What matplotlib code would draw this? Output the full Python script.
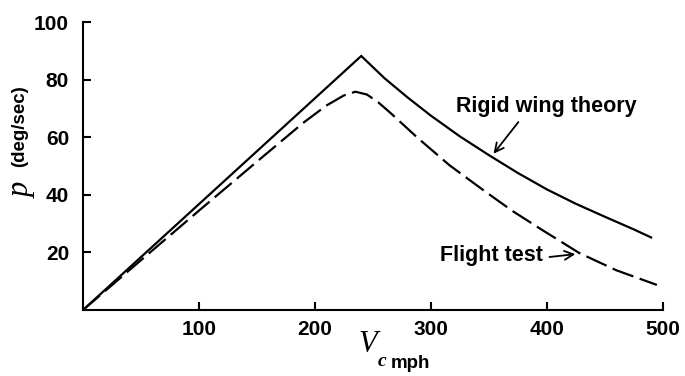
import matplotlib
matplotlib.use("Agg")
import matplotlib.pyplot as plt

# Data
rigid_v = [0, 240, 260, 280, 300, 325, 350, 375, 400, 425, 450, 475, 490]
rigid_p = [0, 88.2, 80.5, 73.8, 67.5, 60.3, 53.8, 47.6, 41.9, 36.9, 32.4, 28.0, 25.2]

flight_v = [0, 50, 100, 150, 190, 210, 225, 235, 245, 255, 265, 288, 316, 345, 370, 396, 428, 460, 495]
flight_p = [0, 17.3, 34.5, 51.5, 65.0, 71.0, 74.5, 75.8, 74.8, 72.0, 68.5, 60.0, 50.3, 41.7, 34.5, 27.8, 19.8, 13.8, 8.7]

x_ticks = [100, 200, 300, 400, 500]
y_ticks = [20, 40, 60, 80, 100]

W, H = 685, 376
fig = plt.figure(figsize=(W / 100, H / 100), dpi=100)
ax = fig.add_axes([83 / W, 1 - 310 / H, (665 - 83) / W, (310 - 22) / H])

ax.plot(rigid_v, rigid_p, color="black", lw=1.6, solid_joinstyle="miter")
ax.plot(flight_v, flight_p, color="black", lw=1.6, linestyle=(0, (10, 3)))

ax.set_xlim(0, 502)
ax.set_ylim(0, 100)
for s in ["top", "right"]:
    ax.spines[s].set_visible(False)
for s in ["left", "bottom"]:
    ax.spines[s].set_linewidth(1.5)
ax.spines["bottom"].set_bounds(0, 500)

tick_font = dict(family="Liberation Sans", weight="bold", size=15)
ax.set_xticks(x_ticks)
ax.set_yticks(y_ticks)
ax.set_xticklabels([str(v) for v in x_ticks], **tick_font)
ax.set_yticklabels([str(v) for v in y_ticks], **tick_font)
ax.tick_params(axis="both", direction="in", length=6, width=1.5, color="black")
ax.tick_params(axis="x", pad=7)
ax.tick_params(axis="y", pad=10)

lab_font = dict(family="Liberation Sans", weight="bold", size=15.5)
ax.annotate("Rigid wing theory", xy=(352.6, 53), xytext=(322, 70.5),
            ha="left", va="center", **lab_font)
ax.annotate("", xy=(352.6, 53.5), xytext=(377, 66),
            arrowprops=dict(arrowstyle="->", lw=1.3, color="black", mutation_scale=16))
ax.annotate("Flight test", xy=(426, 19), xytext=(396.5, 18.8),
            ha="right", va="center", **lab_font)
ax.annotate("", xy=(427, 19.5), xytext=(400, 18.3),
            arrowprops=dict(arrowstyle="->", lw=1.3, color="black", mutation_scale=16))

def fx(px):
    return px / W

def fy(py):
    return 1 - py / H

# y-axis label
fig.text(fx(22), fy(190), "p", family="Liberation Serif", style="italic", size=22,
         rotation=90, ha="center", va="center")
fig.text(fx(20), fy(126), "(deg/sec)", family="Liberation Sans", weight="bold", size=13.5,
         rotation=90, ha="center", va="center")

# x-axis label
fig.text(fx(368), fy(345), "V", family="Liberation Serif", style="italic", size=22,
         ha="center", va="center")
fig.text(fx(382), fy(362), "c", family="Liberation Serif", style="italic", weight="bold", size=14,
         ha="center", va="center")
fig.text(fx(410), fy(363), "mph", family="Liberation Sans", weight="bold", size=13.5,
         ha="center", va="center")

fig.savefig("out.png", dpi=100)
